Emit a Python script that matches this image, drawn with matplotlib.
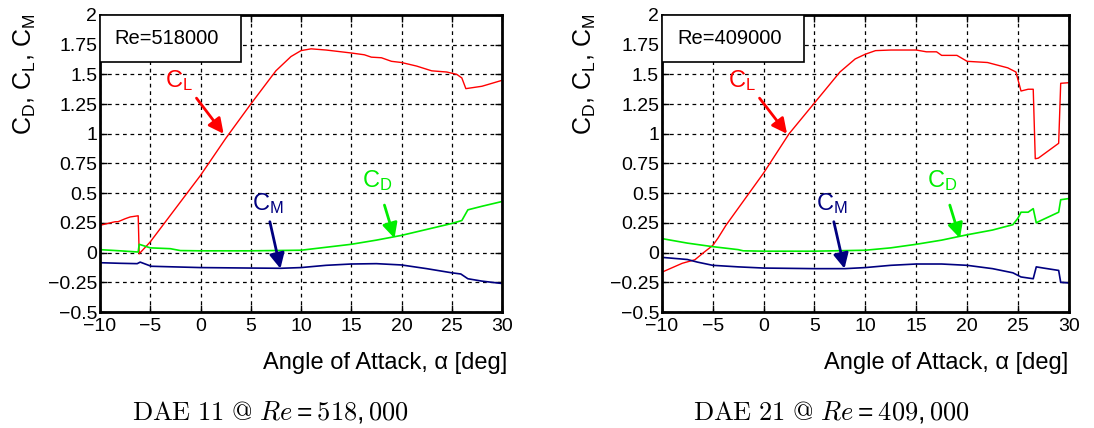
import numpy as np
import matplotlib.pyplot as plt
from matplotlib.patches import Rectangle

plt.rcParams['font.family'] = ['Liberation Sans', 'DejaVu Sans']
plt.rcParams['mathtext.default'] = 'regular'

# ---- DAE 11, Re = 518000 ----
a_cl_11 = [-10, -9, -8.5, -8.2, -7.5, -7, -6.2, -6.1, -5, -2.5, 0, 2.5, 5, 7.5, 9, 10, 11,
           12.5, 14, 15, 16.3, 17, 18, 19, 20, 21.5, 23, 24.5, 25.5, 26, 26.4, 28, 30]
cl_11 = [0.23, 0.25, 0.26, 0.26, 0.285, 0.30, 0.31, -0.01, 0.09, 0.37, 0.65, 0.96, 1.25, 1.53,
         1.65, 1.70, 1.715, 1.705, 1.69, 1.68, 1.665, 1.645, 1.64, 1.61, 1.60, 1.57, 1.53,
         1.52, 1.50, 1.47, 1.38, 1.40, 1.45]
a_cd_11 = [-10, -8, -6.2, -6.1, -5, -3, -2, 0, 5, 10, 12, 15, 17.5, 20, 22.5, 25, 26, 26.6, 28, 30]
cd_11 = [0.025, 0.015, 0.005, 0.07, 0.04, 0.033, 0.017, 0.015, 0.015, 0.02, 0.04, 0.07, 0.105,
         0.145, 0.195, 0.245, 0.27, 0.36, 0.39, 0.43]
a_cm_11 = [-10, -8, -6.3, -6.0, -4.9, -2.7, 0, 5, 8, 10, 12.5, 15, 17.5, 20, 22.5, 25, 25.9,
           26.6, 28, 30]
cm_11 = [-0.085, -0.09, -0.093, -0.08, -0.115, -0.12, -0.126, -0.13, -0.132, -0.126, -0.107,
         -0.096, -0.093, -0.104, -0.135, -0.17, -0.18, -0.22, -0.24, -0.26]

# ---- DAE 21, Re = 409000 ----
a_cl_21 = [-10, -8, -6.75, -5.9, -5, -4.5, -3.7, 0, 2.5, 5, 7.5, 9, 10, 11, 12.5, 15, 16, 17,
           17.5, 19, 20, 22, 24, 24.8, 25.3, 26, 26.5, 26.7, 27, 29, 29.2, 30]
cl_21 = [-0.165, -0.09, -0.06, 0.0, 0.06, 0.12, 0.23, 0.67, 1.0, 1.26, 1.52, 1.63, 1.67, 1.70,
         1.705, 1.705, 1.69, 1.69, 1.66, 1.66, 1.61, 1.60, 1.555, 1.52, 1.36, 1.375, 1.375,
         0.79, 0.795, 0.92, 1.425, 1.43]
a_cd_21 = [-10, -7.5, -5, -2.5, -2, 0, 5, 10, 12.5, 15, 17.5, 20, 22.5, 24.5, 25, 25.3, 26,
           26.5, 26.8, 27, 28, 29, 29.2, 30]
cd_21 = [0.118, 0.08, 0.05, 0.025, 0.015, 0.012, 0.012, 0.02, 0.04, 0.07, 0.105, 0.15, 0.19,
         0.235, 0.29, 0.34, 0.34, 0.37, 0.25, 0.26, 0.30, 0.34, 0.445, 0.455]
a_cm_21 = [-10, -7.5, -6.5, -5, -2.5, 0, 5, 8, 10, 12.5, 15, 17.5, 20, 22.5, 24.5, 25.3, 26.5,
           26.8, 27.5, 29, 29.2, 30]
cm_21 = [-0.04, -0.058, -0.08, -0.107, -0.12, -0.13, -0.135, -0.135, -0.126, -0.107, -0.096,
         -0.096, -0.107, -0.135, -0.17, -0.205, -0.22, -0.12, -0.13, -0.15, -0.25, -0.255]

x_ticks = [-10, -5, 0, 5, 10, 15, 20, 25, 30]
y_ticks = [-0.5, -0.25, 0, 0.25, 0.5, 0.75, 1, 1.25, 1.5, 1.75, 2]
y_labels = ['\u22120.5', '\u22120.25', '0', '0.25', '0.5', '0.75', '1', '1.25', '1.5', '1.75', '2']
x_labels = ['\u221210', '\u22125', '0', '5', '10', '15', '20', '25', '30']

panels = [
    dict(pos=[0.0914, 0.271, 0.3675, 0.694], re='Re=518000',
         cl=(a_cl_11, cl_11), cd=(a_cd_11, cd_11), cm=(a_cm_11, cm_11),
         ylab_x=0.023, xlab_x=0.352, cap_x=0.247,
         cap=r'$\mathrm{DAE\ 11\ @\ }\mathit{Re} = \mathrm{518},\mathrm{000}$'),
    dict(pos=[0.605, 0.271, 0.372, 0.694], re='Re=409000',
         cl=(a_cl_21, cl_21), cd=(a_cd_21, cd_21), cm=(a_cm_21, cm_21),
         ylab_x=0.535, xlab_x=0.865, cap_x=0.76,
         cap=r'$\mathrm{DAE\ 21\ @\ }\mathit{Re} = \mathrm{409},\mathrm{000}$'),
]

red = '#ff0000'
green = '#00ee00'
navy = '#000080'

fig = plt.figure(figsize=(10.94, 4.28), dpi=100)

for p in panels:
    ax = fig.add_axes(p['pos'])
    ax.plot(*p['cl'], color=red, lw=1)
    ax.plot(*p['cd'], color=green, lw=1.2)
    ax.plot(*p['cm'], color=navy, lw=1.2)
    ax.set_xlim(-10, 30)
    ax.set_ylim(-0.5, 2)
    ax.set_xticks(x_ticks)
    ax.set_xticklabels(x_labels)
    ax.set_yticks(y_ticks)
    ax.set_yticklabels(y_labels)
    ax.tick_params(direction='in', length=5, width=1, labelsize=14, pad=2,
                   top=True, right=True)
    ax.tick_params(axis='x', pad=4)
    ax.grid(True, color='black', linestyle=(0, (3, 3)), lw=0.9)
    for s in ax.spines.values():
        s.set_linewidth(2)

    # Re box
    ax.add_patch(Rectangle((0, 0.842), 0.35, 0.158, transform=ax.transAxes,
                           facecolor='white', edgecolor='black', lw=1.2, zorder=5))
    ax.text(0.037, 0.92, p['re'], transform=ax.transAxes, fontsize=14.5,
            va='center', ha='left', zorder=6)

    # labels with arrows
    arw = dict(arrowstyle='-|>,head_length=0.9,head_width=0.45', lw=2, shrinkA=0, shrinkB=0)
    ax.annotate('', xy=(2.3, 1.0), xytext=(-0.4, 1.30), arrowprops=dict(arw, color=red))
    ax.text(-2.1, 1.45, 'C$_L$', color=red, fontsize=17, ha='center', va='center')
    ax.annotate('', xy=(19.3, 0.12), xytext=(18.3, 0.40), arrowprops=dict(arw, color=green))
    ax.text(17.6, 0.61, 'C$_D$', color=green, fontsize=17, ha='center', va='center')
    ax.annotate('', xy=(7.95, -0.135), xytext=(6.9, 0.26), arrowprops=dict(arw, color=navy))
    ax.text(6.7, 0.41, 'C$_M$', color=navy, fontsize=17, ha='center', va='center')

    fig.text(p['ylab_x'], 0.827, 'C$_D$, C$_L$, C$_M$', rotation=90, fontsize=18,
             ha='center', va='center')
    fig.text(p['xlab_x'], 0.152, 'Angle of Attack, \u03b1 [deg]', fontsize=17,
             ha='center', va='center')
    fig.text(p['cap_x'], 0.037, p['cap'], fontsize=19, ha='center', va='center',
             math_fontfamily='cm')

fig.savefig('out.png', dpi=100)
